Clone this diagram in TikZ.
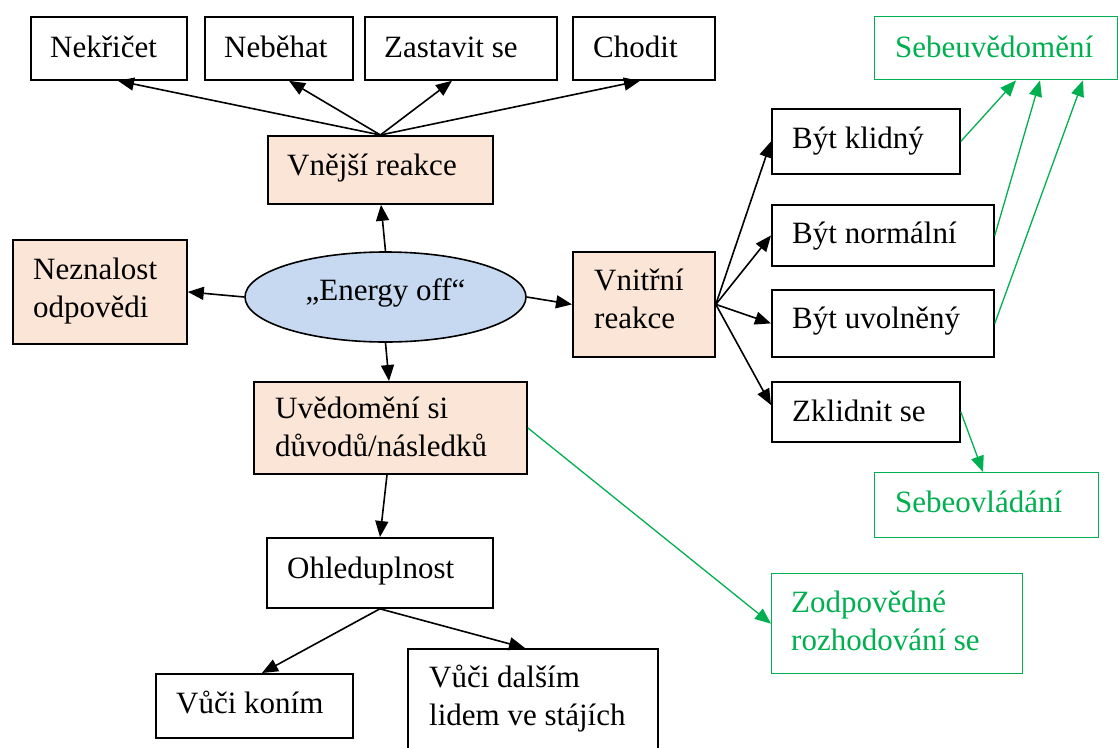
\documentclass[tikz,border=0pt]{standalone}
\usepackage{fontspec}
\setmainfont{Liberation Serif}
\usetikzlibrary{shapes.geometric,arrows.meta}
\definecolor{orf}{HTML}{FBE5D6}
\definecolor{blf}{HTML}{C6D9F1}
\definecolor{grn}{HTML}{00B050}
\newcommand\twol[2]{\begin{tabular}[t]{@{}l@{}}#1\\#2\end{tabular}}
\begin{document}
\begin{tikzpicture}[x=1pt,y=-1pt,
  box/.style={draw=black, line width=1.8pt, anchor=north west, inner sep=0pt},
  obox/.style={box, fill=orf},
  gbox/.style={draw=grn, line width=1.4pt, anchor=north west, inner sep=0pt},
  txt/.style={anchor=base west, inner sep=0pt, font=\fontsize{31}{38}\selectfont},
  gtxt/.style={txt, text=grn},
  arr/.style={line width=1.6pt, -{Triangle[length=16pt,width=13pt]}},
  garr/.style={draw=grn, line width=1.3pt, -{Triangle[length=16pt,width=13pt]}},
]
\useasboundingbox[fill=white] (0,0) rectangle (1118,747);

% boxes
\node[box, minimum width=156pt, minimum height=63pt] (nek) at (30,16) {};
\node[box, minimum width=148pt, minimum height=63pt] (neb) at (204,16) {};
\node[box, minimum width=192pt, minimum height=63pt] (zas) at (364,16) {};
\node[box, minimum width=142pt, minimum height=63pt] (cho) at (572,16) {};
\node[gbox, minimum width=243pt, minimum height=63pt] (seb) at (874,16) {};
\node[obox, minimum width=225pt, minimum height=68pt] (vne) at (267,135) {};
\node[obox, minimum width=174pt, minimum height=104pt] (nez) at (12,239) {};
\node[draw=black, line width=1.6pt, fill=blf, ellipse, inner sep=0pt,
      minimum width=281pt, minimum height=90pt,
      font=\fontsize{31}{38}\selectfont, text height=22pt, text depth=16pt]
      (ell) at (385.5,297) {„Energy off“};
\node[obox, minimum width=142pt, minimum height=105pt] (vni) at (572,251) {};
\node[obox, minimum width=273pt, minimum height=92pt] (uve) at (253,381) {};
\node[box, minimum width=188pt, minimum height=65pt] (kli) at (771,108) {};
\node[box, minimum width=222pt, minimum height=61pt] (nor) at (771,204) {};
\node[box, minimum width=222pt, minimum height=67pt] (uvo) at (771,289) {};
\node[box, minimum width=188pt, minimum height=60pt] (zkl) at (771,381) {};
\node[gbox, minimum width=224pt, minimum height=65pt] (sbo) at (874,472) {};
\node[gbox, minimum width=251pt, minimum height=100pt] (zod) at (771,573) {};
\node[box, minimum width=226pt, minimum height=70pt] (ohl) at (266,537) {};
\node[box, minimum width=197pt, minimum height=64pt] (kon) at (155,673) {};
\node[box, minimum width=250pt, minimum height=110pt] (dal) at (407,648) {};

% texts
\node[txt] (tnek) at ([xshift=20pt,yshift=-41pt]nek.north west) {Nekřičet};
\node[txt] (tneb) at ([xshift=20pt,yshift=-41pt]neb.north west) {Neběhat};
\node[txt] (tzas) at ([xshift=20pt,yshift=-41pt]zas.north west) {Zastavit se};
\node[txt] (tcho) at ([xshift=21pt,yshift=-41pt]cho.north west) {Chodit};
\node[gtxt] (tseb) at ([xshift=21pt,yshift=-41pt]seb.north west) {Sebeuvědomění};
\node[txt] (tvne) at ([xshift=20pt,yshift=-40pt]vne.north west) {Vnější reakce};
\node[txt] (tnez) at ([xshift=21pt,yshift=-40pt]nez.north west) {\twol{Neznalost}{odpovědi}};
\node[txt] (tvni) at ([xshift=22pt,yshift=-39pt]vni.north west) {\twol{Vnitřní}{reakce}};
\node[txt] (tuve) at ([xshift=22pt,yshift=-37pt]uve.north west) {\twol{Uvědomění si}{důvodů/následků}};
\node[txt] (tkli) at ([xshift=21pt,yshift=-40pt]kli.north west) {Být klidný};
\node[txt] (tnor) at ([xshift=21pt,yshift=-39pt]nor.north west) {Být normální};
\node[txt] (tuvo) at ([xshift=21pt,yshift=-39pt]uvo.north west) {Být uvolněný};
\node[txt] (tzkl) at ([xshift=21pt,yshift=-40pt]zkl.north west) {Zklidnit se};
\node[gtxt] (tsbo) at ([xshift=21pt,yshift=-40pt]sbo.north west) {Sebeovládání};
\node[gtxt] (tzod) at ([xshift=20pt,yshift=-39pt]zod.north west) {\twol{Zodpovědné}{rozhodování se}};
\node[txt] (tohl) at ([xshift=21pt,yshift=-41pt]ohl.north west) {Ohleduplnost};
\node[txt] (tkon) at ([xshift=21pt,yshift=-40pt]kon.north west) {Vůči koním};
\node[txt] (tdal) at ([xshift=22pt,yshift=-39pt]dal.north west) {\twol{Vůči dalším}{lidem ve stájích}};

% black connectors
\draw[arr] (vne.north) -- ([xshift=88pt]nek.south west);
\draw[arr] (vne.north) -- ([xshift=85pt]neb.south west);
\draw[arr] (vne.north) -- ([xshift=88pt]zas.south west);
\draw[arr] (vne.north) -- ([xshift=68pt]cho.south west);
\draw[arr] (ell.north) -- ([xshift=114pt]vne.south west);
\draw[arr] (ell.west) -- (nez.east);
\draw[arr] (ell.south) -- ([xshift=136pt]uve.north west);
\draw[arr] (ell.east) -- (vni.west);
\draw[arr] (vni.east) -- (kli.west);
\draw[arr] (vni.east) -- (nor.west);
\draw[arr] (vni.east) -- (uvo.west);
\draw[arr] (vni.east) -- ([yshift=-24pt]zkl.north west);
\draw[arr] ([xshift=134pt]uve.south west) -- ([xshift=114pt]ohl.north west);
\draw[arr] (ohl.south) -- ([xshift=107pt]kon.north west);
\draw[arr] (ohl.south) -- ([xshift=118pt]dal.north west);

% green connectors
\draw[garr] (kli.east) -- ([xshift=142pt]seb.south west);
\draw[garr] (nor.east) -- ([xshift=166pt]seb.south west);
\draw[garr] (uvo.east) -- ([xshift=209pt]seb.south west);
\draw[garr] (zkl.east) -- ([xshift=109pt]sbo.north west);
\draw[garr] (uve.east) -- (zod.west);
\end{tikzpicture}
\end{document}
